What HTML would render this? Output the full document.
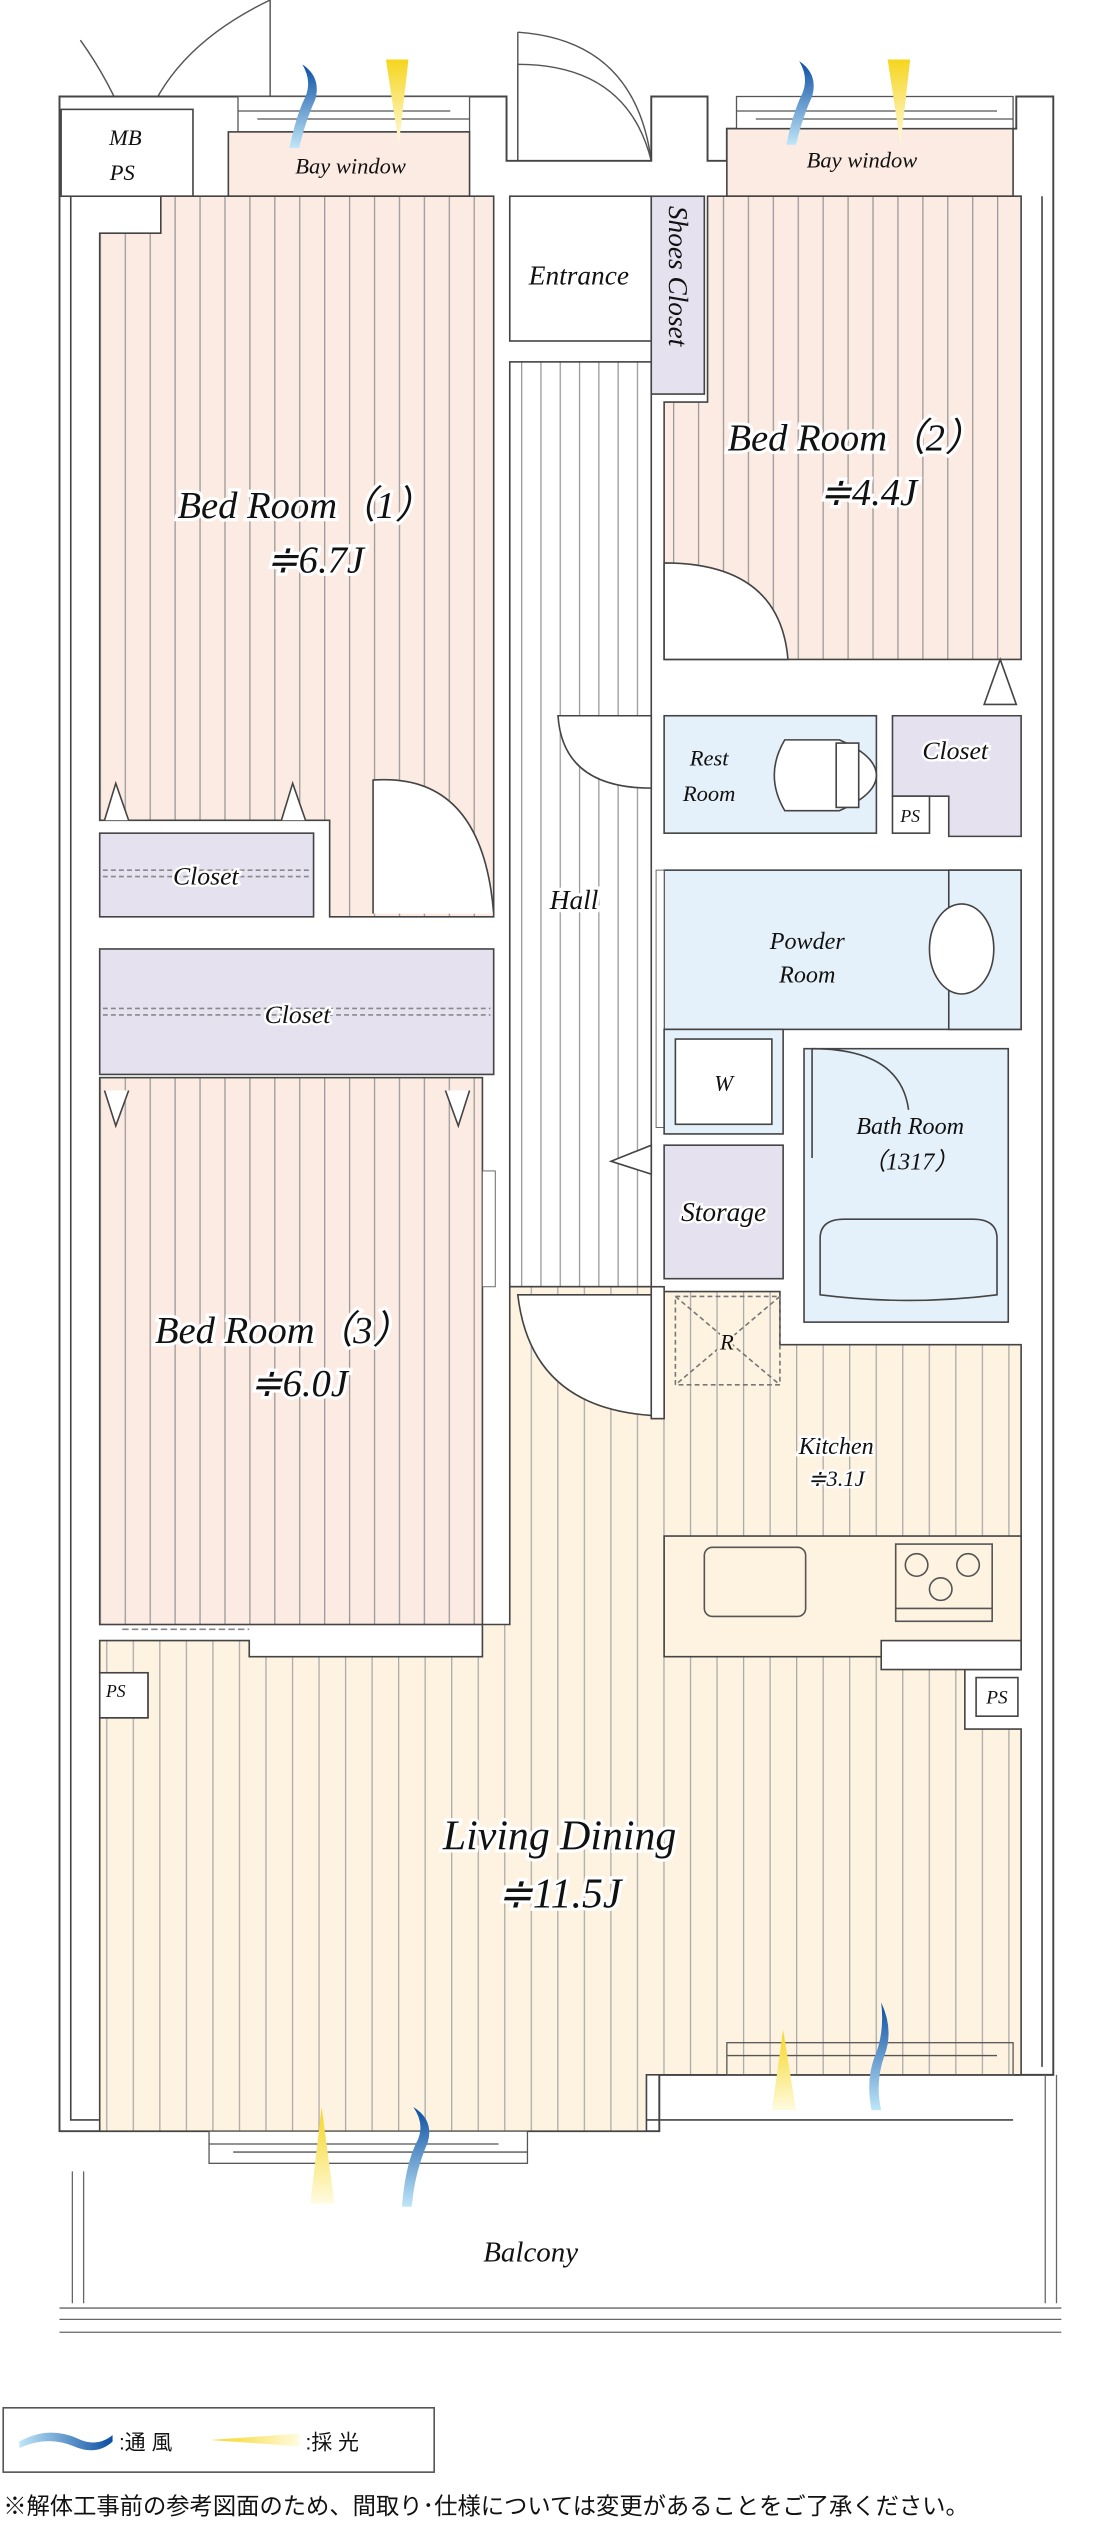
<!DOCTYPE html>
<html><head><meta charset="utf-8"><style>
html,body{margin:0;padding:0;background:#fff}
svg{display:block}
text{font-family:"Liberation Serif",serif;font-style:italic;fill:#111}
.j{font-family:"Liberation Sans","Noto Sans CJK JP",sans-serif;font-style:normal}
</style></head><body>
<svg width="1116" height="2522" viewBox="0 0 694 1568" preserveAspectRatio="none" xmlns="http://www.w3.org/2000/svg">
<defs>
<pattern id="pk" width="15.5" height="10" patternUnits="userSpaceOnUse"><rect width="15.5" height="10" fill="#fcebe3"/><line x1="0.4" y1="0" x2="0.4" y2="10" stroke="#999" stroke-width="0.8"/></pattern>
<pattern id="cr" width="16.5" height="10" patternUnits="userSpaceOnUse"><rect width="16.5" height="10" fill="#fef3e1"/><line x1="0.4" y1="0" x2="0.4" y2="10" stroke="#aaa" stroke-width="0.8"/></pattern>
<pattern id="hl" width="12" height="10" patternUnits="userSpaceOnUse"><rect width="12" height="10" fill="#fff"/><line x1="0.4" y1="0" x2="0.4" y2="10" stroke="#999" stroke-width="0.8"/></pattern>
<linearGradient id="bl" x1="0" y1="0" x2="0" y2="1"><stop offset="0" stop-color="#0b4ea2"/><stop offset="1" stop-color="#bfe6f8"/></linearGradient>
<linearGradient id="yl" x1="0" y1="0" x2="0" y2="1"><stop offset="0" stop-color="#f6d51e"/><stop offset="1" stop-color="#fffbe0"/></linearGradient>
<linearGradient id="blh" x1="0" y1="0" x2="1" y2="0"><stop offset="0" stop-color="#bfe6f8"/><stop offset="1" stop-color="#0b4ea2"/></linearGradient>
<linearGradient id="ylh" x1="0" y1="0" x2="1" y2="0"><stop offset="0" stop-color="#fffbe0"/><stop offset="1" stop-color="#f6d51e"/></linearGradient>
</defs>
<g fill="none" stroke="#555" stroke-width="0.9">
<!-- top left doors -->
<path d="M85 98 Q95 35 168 0 L168 98"/><path d="M50 25 Q75 60 85 98"/>
<!-- entrance door -->
<path d="M322 40 L322 100 M322 40 Q390 40 405 100"/><rect x="322" y="20" width="0" height="80"/>
<path d="M322 20 L322 100 M322 20 Q395 25 405 100"/>
</g>
<!-- outer wall -->
<path d="M37 60 L315 60 L315 100 L405 100 L405 60 L440 60 L440 100 L452 100 L452 80 L632 80 L632 60 L655 60 L655 1290 L410 1290 L410 1325 L330 1325 L330 1325 L37 1325 Z" fill="#fff" stroke="#444" stroke-width="1.2"/>
<!-- inner wall outline -->
<path d="M44 122 L44 1318 L630 1318" fill="none" stroke="#444" stroke-width="1"/>
<path d="M648 122 L648 1285" fill="none" stroke="#444" stroke-width="1"/>
<!-- windows top -->
<g stroke="#555" stroke-width="0.8" fill="#fff">
<rect x="148" y="60" width="144" height="22"/><line x1="148" y1="69" x2="280" y2="69"/><line x1="160" y1="74" x2="292" y2="74"/>
<rect x="458" y="60" width="172" height="20"/><line x1="458" y1="69" x2="620" y2="69"/><line x1="470" y1="74" x2="630" y2="74"/>
</g>
<!-- MB PS -->
<rect x="38" y="68" width="82" height="54" fill="#fff" stroke="#444"/>
<text x="78" y="90" font-size="14" text-anchor="middle">MB</text><text x="76" y="112" font-size="14" text-anchor="middle">PS</text>
<!-- Bay windows -->
<rect x="142" y="82" width="150" height="40" fill="#fcebe3" stroke="#444"/>
<text x="218" y="108" font-size="14" text-anchor="middle">Bay window</text>
<rect x="452" y="80" width="178" height="42" fill="#fcebe3" stroke="#444"/>
<text x="536" y="104" font-size="14" text-anchor="middle">Bay window</text>
<!-- Bed room 1 -->
<path d="M100 122 L307 122 L307 570 L205 570 L205 510 L62 510 L62 145 L100 145 Z" fill="url(#pk)" stroke="#444"/>
<rect x="62" y="518" width="133" height="52" fill="#e5e1ef" stroke="#444"/>
<line x1="64" y1="541" x2="193" y2="541" stroke="#888" stroke-dasharray="3 2"/><line x1="64" y1="545" x2="193" y2="545" stroke="#888" stroke-dasharray="3 2"/>
<text x="128" y="550" font-size="16" text-anchor="middle" stroke="#fff" stroke-width="3" paint-order="stroke">Closet</text>
<path d="M65 510 L72 487 L80 510 M175 510 L182 487 L190 510" fill="#fff" stroke="#444"/>
<path d="M232 568 L232 485 Q300 480 307 568" fill="#fff" stroke="#444"/>
<text x="190" y="322" font-size="24" text-anchor="middle" stroke="#fff" stroke-width="4" paint-order="stroke">Bed Room（1）</text>
<text x="196" y="356" font-size="24" text-anchor="middle" stroke="#fff" stroke-width="4" paint-order="stroke">≑6.7J</text>
<!-- long closet -->
<rect x="62" y="590" width="245" height="78" fill="#e5e1ef" stroke="#444"/>
<line x1="64" y1="627" x2="305" y2="627" stroke="#888" stroke-dasharray="3 2"/><line x1="64" y1="631" x2="305" y2="631" stroke="#888" stroke-dasharray="3 2"/>
<text x="185" y="636" font-size="16" text-anchor="middle" stroke="#fff" stroke-width="3" paint-order="stroke">Closet</text>
<!-- Bed room 3 -->
<rect x="62" y="670" width="238" height="340" fill="url(#pk)" stroke="#444"/>
<path d="M65 678 L72 700 L80 678 M277 678 L285 700 L292 678" fill="#fff" stroke="#444"/>
<rect x="300" y="728" width="8" height="72" fill="#fff" stroke="#666" stroke-width="0.6"/>
<text x="176" y="835" font-size="24" text-anchor="middle" stroke="#fff" stroke-width="4" paint-order="stroke">Bed Room（3）</text>
<text x="186" y="868" font-size="24" text-anchor="middle" stroke="#fff" stroke-width="4" paint-order="stroke">≑6.0J</text>
<line x1="76" y1="1013" x2="155" y2="1013" stroke="#888" stroke-dasharray="4 2"/>
<!-- Entrance & hall -->
<rect x="317" y="122" width="88" height="90" fill="#fff" stroke="#444"/>
<text x="360" y="177" font-size="17" text-anchor="middle">Entrance</text>
<rect x="317" y="225" width="88" height="575" fill="url(#hl)" stroke="#444"/>
<text x="357" y="565" font-size="17" text-anchor="middle" stroke="#fff" stroke-width="4" paint-order="stroke">Hall</text>
<path d="M347 445 L405 445 L405 490 Q350 490 347 445 Z" fill="#fff" stroke="#444"/>
<path d="M380 722 L405 712 L405 730 Z" fill="#fff" stroke="#444"/>
<path d="M322 805 L405 805 L405 880 Q330 875 322 805 Z" fill="#fff" stroke="#444"/>
<!-- shoes closet -->
<rect x="405" y="122" width="33" height="123" fill="#e5e1ef" stroke="#444"/>
<text transform="translate(416 128) rotate(90)" font-size="17">Shoes Closet</text>
<!-- Bed room 2 -->
<path d="M452 122 L635 122 L635 410 L413 410 L413 250 L440 250 L440 122 Z" fill="url(#pk)" stroke="#444"/>
<path d="M413 350 Q485 350 490 410 L413 410 Z" fill="#fff" stroke="#444"/>
<path d="M612 438 L622 410 L632 438 Z" fill="#fff" stroke="#444"/>
<text x="532" y="280" font-size="24" text-anchor="middle" stroke="#fff" stroke-width="4" paint-order="stroke">Bed Room（2）</text>
<text x="540" y="314" font-size="24" text-anchor="middle" stroke="#fff" stroke-width="4" paint-order="stroke">≑4.4J</text>
<!-- rest room -->
<rect x="413" y="445" width="132" height="73" fill="#e4f1fa" stroke="#444"/>
<path d="M488 460 L522 460 Q545 470 545 482 Q545 494 522 504 L488 504 Q475 482 488 460 Z" fill="#fff" stroke="#444"/>
<rect x="520" y="462" width="14" height="40" fill="#fff" stroke="#444"/>
<text x="441" y="476" font-size="14" text-anchor="middle">Rest</text><text x="441" y="498" font-size="14" text-anchor="middle">Room</text>
<!-- closet 2 -->
<path d="M555 445 L635 445 L635 520 L590 520 L590 495 L555 495 Z" fill="#e5e1ef" stroke="#444"/>
<text x="594" y="472" font-size="16" text-anchor="middle" stroke="#fff" stroke-width="3" paint-order="stroke">Closet</text>
<rect x="555" y="495" width="23" height="23" fill="#fff" stroke="#444"/>
<text x="566" y="511" font-size="11" text-anchor="middle">PS</text>
<!-- powder room -->
<rect x="413" y="541" width="222" height="99" fill="#e4f1fa" stroke="#444"/>
<rect x="590" y="541" width="45" height="99" fill="#e4f1fa" stroke="#444"/>
<ellipse cx="598" cy="590" rx="20" ry="28" fill="#fff" stroke="#444"/>
<text x="502" y="590" font-size="15" text-anchor="middle">Powder</text><text x="502" y="611" font-size="15" text-anchor="middle">Room</text>
<rect x="408" y="541" width="5" height="160" fill="#fff" stroke="#666" stroke-width="0.6"/>
<!-- W -->
<rect x="413" y="640" width="74" height="65" fill="#e4f1fa" stroke="#444"/>
<rect x="420" y="646" width="60" height="53" fill="#fff" stroke="#444"/>
<text x="450" y="678" font-size="14" text-anchor="middle">W</text>
<!-- bath -->
<rect x="500" y="652" width="127" height="170" fill="#e4f1fa" stroke="#444"/>
<path d="M505 652 L505 720 M505 652 Q560 652 565 690" fill="none" stroke="#444"/>
<path d="M510 770 Q510 758 525 758 L605 758 Q620 758 620 770 L620 805 Q565 812 510 805 Z" fill="#e4f1fa" stroke="#444"/>
<text x="566" y="705" font-size="15" text-anchor="middle">Bath Room</text><text x="566" y="727" font-size="15" text-anchor="middle">（1317）</text>
<!-- storage -->
<rect x="413" y="712" width="74" height="83" fill="#e5e1ef" stroke="#444"/>
<text x="450" y="759" font-size="17" text-anchor="middle" stroke="#fff" stroke-width="3" paint-order="stroke">Storage</text>
<!-- living/kitchen -->
<path d="M317 800 L405 800 L405 880 L413 880 L413 803 L485 803 L485 836 L635 836 L635 1038 L600 1038 L600 1075 L635 1075 L635 1290 L402 1290 L402 1325 L62 1325 L62 1068 L92 1068 L92 1040 L62 1040 L62 1020 L155 1020 L155 1030 L300 1030 L300 1010 L317 1010 Z" fill="url(#cr)" stroke="#444"/>
<path d="M322 805 L405 805 L405 880 Q330 875 322 805 Z" fill="#fff" stroke="#444"/>
<rect x="405" y="800" width="8" height="82" fill="#fff" stroke="#444"/>
<rect x="420" y="806" width="65" height="55" fill="none" stroke="#777" stroke-dasharray="3 2"/>
<path d="M420 806 L485 861 M485 806 L420 861" stroke="#777" stroke-dasharray="3 2"/>
<text x="452" y="839" font-size="14" text-anchor="middle" stroke="#fef3e1" stroke-width="3" paint-order="stroke">R</text>
<text x="520" y="904" font-size="15" text-anchor="middle" stroke="#fff" stroke-width="3" paint-order="stroke">Kitchen</text>
<text x="520" y="924" font-size="14" text-anchor="middle" stroke="#fff" stroke-width="3" paint-order="stroke">≑3.1J</text>
<rect x="413" y="955" width="222" height="75" fill="#fef3e1" stroke="#444"/>
<rect x="438" y="962" width="63" height="43" rx="5" fill="#fef3e1" stroke="#555"/>
<rect x="557" y="960" width="60" height="48" fill="#fef3e1" stroke="#555"/><line x1="557" y1="1000" x2="617" y2="1000" stroke="#555"/>
<g fill="none" stroke="#555"><circle cx="570" cy="973" r="7"/><circle cx="602" cy="973" r="7"/><circle cx="585" cy="988" r="7"/></g>
<rect x="548" y="1020" width="87" height="18" fill="#fff" stroke="#444"/>
<rect x="62" y="1040" width="30" height="28" fill="#fff" stroke="#444"/>
<text x="72" y="1055" font-size="11" text-anchor="middle">PS</text>
<rect x="607" y="1043" width="26" height="24" fill="#fff" stroke="#444"/>
<text x="620" y="1059" font-size="12" text-anchor="middle">PS</text>
<text x="348" y="1150" font-size="26" text-anchor="middle" stroke="#fff" stroke-width="4" paint-order="stroke">Living Dining</text>
<text x="348" y="1186" font-size="26" text-anchor="middle" stroke="#fff" stroke-width="4" paint-order="stroke">≑11.5J</text>
<!-- bottom windows -->
<g stroke="#555" stroke-width="0.8" fill="#fff">
<rect x="130" y="1325" width="198" height="20"/><line x1="130" y1="1333" x2="310" y2="1333"/><line x1="145" y1="1338" x2="328" y2="1338"/>
<rect x="452" y="1270" width="178" height="20" fill="none"/><line x1="452" y1="1278" x2="620" y2="1278"/>
</g>
<!-- balcony -->
<g stroke="#666" stroke-width="0.8" fill="none">
<line x1="45" y1="1350" x2="45" y2="1432"/><line x1="52" y1="1350" x2="52" y2="1432"/>
<line x1="650" y1="1290" x2="650" y2="1432"/><line x1="657" y1="1290" x2="657" y2="1432"/>
<line x1="37" y1="1435" x2="660" y2="1435"/><line x1="37" y1="1442" x2="660" y2="1442"/><line x1="37" y1="1450" x2="660" y2="1450"/>
</g>
<text x="330" y="1406" font-size="18" text-anchor="middle">Balcony</text>
<!-- wind/light icons -->
<path d="M188 40 Q200 48 196 62 Q190 75 186 92 L180 92 Q184 72 190 60 Q194 50 188 40Z" fill="url(#bl)"/>
<path d="M240 37 L254 37 L248 90 Z" fill="url(#yl)"/>
<path d="M497 38 Q509 46 505 60 Q499 73 495 90 L489 90 Q493 70 499 58 Q503 48 497 38Z" fill="url(#bl)"/>
<path d="M552 37 L566 37 L560 90 Z" fill="url(#yl)"/>
<path d="M257 1310 Q270 1318 266 1332 Q258 1350 256 1372 L250 1372 Q252 1345 260 1330 Q264 1320 257 1310Z" fill="url(#bl)" transform="rotate(0)"/>
<path d="M200 1310 L193 1370 L208 1370 Z" fill="url(#yl)"/>
<path d="M548 1245 Q556 1262 550 1278 Q544 1295 548 1312 L542 1312 Q538 1292 545 1276 Q550 1262 548 1245Z" fill="url(#bl)"/>
<path d="M487 1262 L480 1312 L495 1312 Z" fill="url(#yl)"/>
<!-- legend -->
<rect x="2" y="1497" width="268" height="40" fill="#fff" stroke="#555"/>
<path d="M12 1518 Q30 1508 48 1516 Q60 1522 70 1514 L70 1518 Q60 1527 46 1521 Q30 1514 12 1522 Z" fill="url(#blh)"/>
<text x="74" y="1523" font-size="13" class="j">:通 風</text>
<path d="M130 1513 L185 1517 L130 1521 Z" fill="url(#ylh)" transform="rotate(180 158 1517)"/>
<text x="190" y="1523" font-size="13" class="j">:採 光</text>
<text x="2" y="1563" font-size="14.5" class="j">※解体工事前の参考図面のため、間取り･仕様については変更があることをご了承ください。</text>
</svg>
</body></html>
